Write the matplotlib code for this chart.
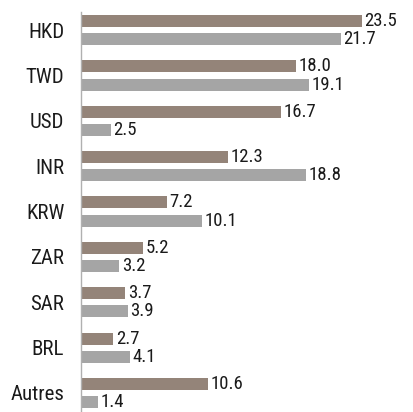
import matplotlib.pyplot as plt
from matplotlib import font_manager

names = {f.name for f in font_manager.fontManager.ttflist}
fam = [f for f in ['Roboto Condensed', 'Archivo Narrow', 'Liberation Sans Narrow'] if f in names]
plt.rcParams['font.family'] = fam + ['DejaVu Sans']

categories = ['HKD', 'TWD', 'USD', 'INR', 'KRW', 'ZAR', 'SAR', 'BRL', 'Autres']
serie1 = [23.5, 18.0, 16.7, 12.3, 7.2, 5.2, 3.7, 2.7, 10.6]
serie2 = [21.7, 19.1, 2.5, 18.8, 10.1, 3.2, 3.9, 4.1, 1.4]

c1 = '#948479'
c2 = '#a5a5a5'

fig = plt.figure(figsize=(4.13, 4.12), dpi=100)
ax = fig.add_axes([81 / 413, 0, 1 - 81 / 413, 400 / 412])

pos = list(range(len(categories)))
off = 0.2
h = 0.265
ax.barh([p - off for p in pos], serie1, height=h, color=c1)
ax.barh([p + off for p in pos], serie2, height=h, color=c2)

for p, v in zip(pos, serie1):
    ax.text(v + 0.2, p - off, f'{v:.1f}', va='center', ha='left', fontsize=13.5, color='#1a1a1a')
for p, v in zip(pos, serie2):
    ax.text(v + 0.2, p + off, f'{v:.1f}', va='center', ha='left', fontsize=13.5, color='#1a1a1a')

ax.set_yticks(pos)
ax.set_yticklabels(categories, fontsize=15, color='#1a1a1a')
ax.tick_params(axis='y', length=0, pad=12)
ax.set_xticks([])
ax.set_xlim(0, 27.76)
ax.set_ylim(8.42, -0.4)
for s in ['top', 'right', 'bottom']:
    ax.spines[s].set_visible(False)
ax.spines['left'].set_color('#b0b0b0')
ax.spines['left'].set_linewidth(1)

fig.savefig('out.png', dpi=100)
